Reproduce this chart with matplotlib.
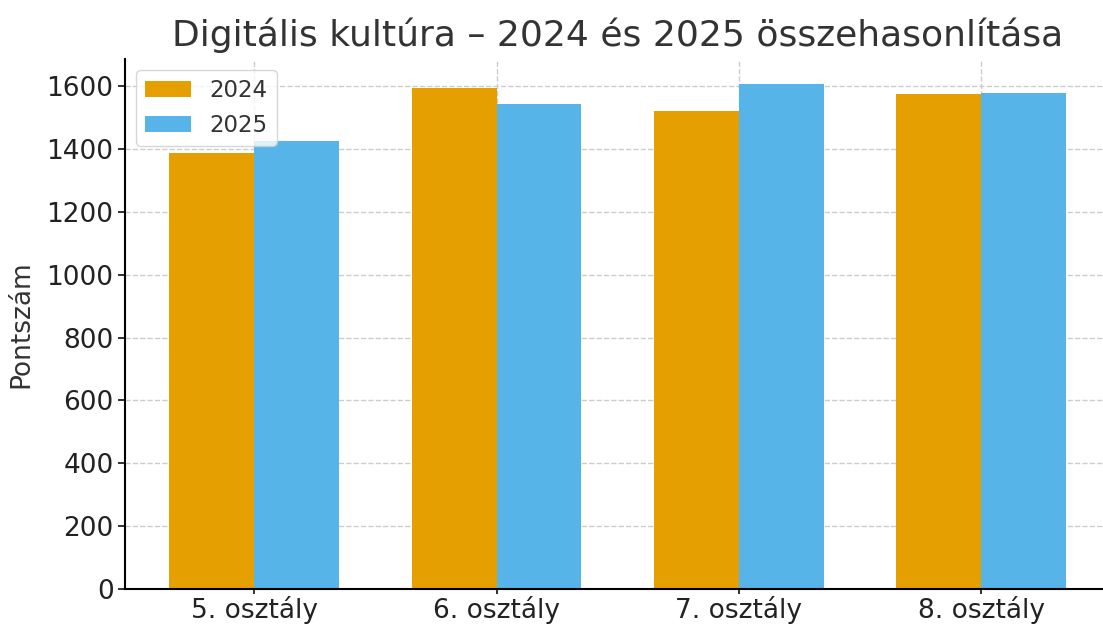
import numpy as np
import matplotlib.pyplot as plt

# Data
categories = ['5. osztály', '6. osztály', '7. osztály', '8. osztály']
scores_2024 = [1388, 1595, 1522, 1575]
scores_2025 = [1425, 1544, 1608, 1578]

plt.rcParams['text.color'] = '#333333'
plt.rcParams['axes.labelcolor'] = '#333333'
plt.rcParams['xtick.color'] = '#222222'
plt.rcParams['ytick.color'] = '#222222'

x = np.arange(len(categories))
width = 0.35

fig, ax = plt.subplots(figsize=(11.03, 6.25), dpi=100)
ax.bar(x - width / 2, scores_2024, width, label='2024', color='#E69F00')
ax.bar(x + width / 2, scores_2025, width, label='2025', color='#56B4E9')

ax.set_title('Digitális kultúra – 2024 és 2025 összehasonlítása', fontsize=26, pad=9)
ax.set_ylabel('Pontszám', fontsize=19, labelpad=9)
ax.set_xticks(x)
ax.set_xticklabels(categories)
ax.tick_params(axis='both', labelsize=19, width=1.3)
ax.tick_params(axis='x', length=3.5, pad=2)
ax.tick_params(axis='y', length=5, pad=3)
ax.grid(True, linestyle='--', color='#cccccc', linewidth=1)
ax.set_axisbelow(True)
ax.spines['top'].set_visible(False)
ax.spines['right'].set_visible(False)
ax.spines['left'].set_linewidth(1.5)
ax.spines['bottom'].set_linewidth(1.5)
ax.legend(fontsize=16.5, loc='upper left')

# axes runs slightly past the right edge, as in the reference
fig.subplots_adjust(left=0.113, right=1.007, top=0.906, bottom=0.058)
plt.savefig('out.png')
plt.close()
